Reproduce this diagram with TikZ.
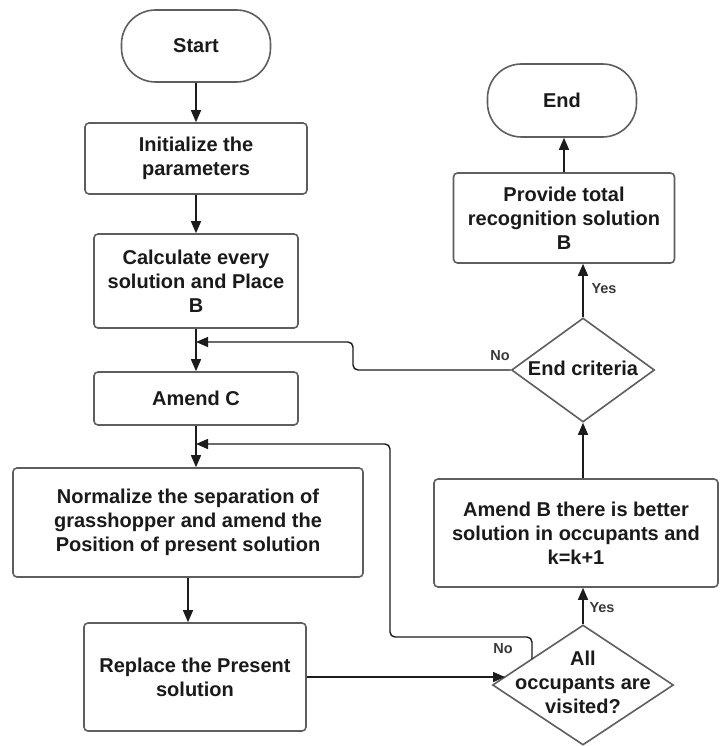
\documentclass[tikz,border=0pt]{standalone}
\usepackage{fontspec}
\setmainfont{Liberation Sans}
\usetikzlibrary{arrows.meta,shapes.geometric}
\definecolor{bordc}{HTML}{5E5E5E}
\definecolor{linec}{HTML}{1C1C1C}
\definecolor{txtc}{HTML}{1A1A1A}
\definecolor{lblc}{HTML}{3A3A3A}
\begin{document}
\begin{tikzpicture}[x=1pt,y=-1pt,
  box/.style={draw=bordc, line width=1.6pt, rounded corners=4pt, fill=white, inner sep=0pt, align=center, text=txtc, font=\fontsize{20}{24}\selectfont\bfseries},
  term/.style={box, rounded corners=34pt},
  dia/.style={draw=bordc, line width=1.6pt, diamond, inner sep=0pt, fill=white},
  txt/.style={align=center, text=txtc, inner sep=0pt, font=\fontsize{20}{24}\selectfont\bfseries},
  conn/.style={draw=linec, line width=1.4pt, -{Triangle[length=12pt,width=10pt]}},
  lbl/.style={text=lblc, inner sep=0pt, font=\fontsize{14.5}{16}\selectfont\bfseries}]
\useasboundingbox (0,0) rectangle (722,746);
\fill[white] (0,0) rectangle (722,746);

% left column
\node[term, minimum width=149pt, minimum height=72pt] (start) at (196,46) {Start};
\node[box, minimum width=222pt, minimum height=71pt] (init) at (196,158.5) {Initialize the\\parameters};
\node[box, minimum width=204pt, minimum height=94pt] (calc) at (196,281) {Calculate every\\solution and Place\\B};
\node[box, minimum width=204pt, minimum height=53pt] (amendc) at (196,398.5) {Amend C};
\node[box, minimum width=350pt, minimum height=109pt] (norm) at (188,522.5) {Normalize the separation of\\grasshopper and amend the\\Position of present solution};
\node[box, minimum width=222pt, minimum height=108pt] (repl) at (195,677) {Replace the Present\\solution};

% right column
\node[term, minimum width=149pt, minimum height=73pt] (endn) at (562,100.5) {End};
\node[box, minimum width=221pt, minimum height=90pt] (prov) at (564,218) {Provide total\\recognition solution\\B};
\node[dia, minimum width=143pt, minimum height=104pt] (endc) at (583,370) {};
\node[txt] (endct) at (583,368) {End criteria};
\node[box, minimum width=284pt, minimum height=108pt] (amendb) at (576,533) {Amend B there is better\\solution in occupants and\\k=k+1};
\node[dia, minimum width=181pt, minimum height=120pt] (alld) at (583,685) {};
\node[txt] (alldt) at (583,682) {All\\occupants are\\visited?};

% helper coordinates
\coordinate (m1) at (196,342);
\coordinate (m2) at (196,444);
\coordinate (n2) at (532,659);
\coordinate (n3) at (505,677);

% main flow
\draw[conn] (start.south) -- (init.north);
\draw[conn] (init.south) -- (calc.north);
\draw[conn] (calc.south) -- (amendc.north);
\draw[conn] (amendc.south) -- (amendc.south |- norm.north);
\draw[conn] (norm.south) -- (norm.south |- repl.north);
\draw[conn] (repl.east) -- (n3);
\draw[conn] (alld.north) -- (alld.north |- amendb.south);
\draw[conn] (endc.south |- amendb.north) -- (endc.south);
\draw[conn] (endc.north) -- (endc.north |- prov.south);
\draw[conn] (prov.north) -- (prov.north |- endn.south);

% feedback loops
\draw[conn, rounded corners=5pt] (endc.west) -- (353,370) |- (m1);
\draw[conn, rounded corners=5pt] (n2) |- (390,637) |- (m2);

% labels
\node[lbl] (l1) at (500,356) {No};
\node[lbl] (l2) at (604,289) {Yes};
\node[lbl] (l3) at (503,649) {No};
\node[lbl] (l4) at (602,608) {Yes};
\end{tikzpicture}
\end{document}
